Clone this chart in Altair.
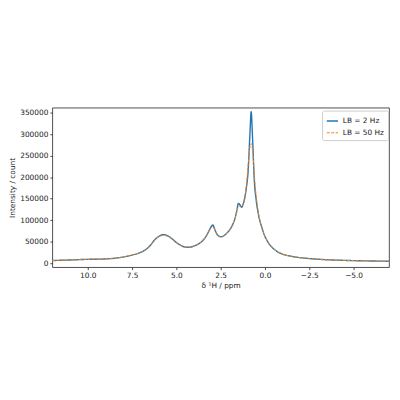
import altair as alt
import pandas as pd

ppm = [12.0, 11.0, 10.0, 9.5, 9.0, 8.5, 8.0, 7.5, 7.0, 6.75, 6.5, 6.25, 6.0, 5.75, 5.5, 5.25,
       5.0, 4.75, 4.5, 4.3, 4.0, 3.75, 3.5, 3.3, 3.1, 2.95, 2.8, 2.7, 2.6, 2.5, 2.4, 2.2, 2.0,
       1.8, 1.7, 1.6, 1.5, 1.42, 1.32, 1.25, 1.15, 1.05, 0.95, 0.85, 0.78, 0.7, 0.6, 0.5, 0.4,
       0.3, 0.2, 0.1, 0.0, -0.1, -0.25, -0.5, -0.75, -1.0, -1.5, -2.0, -2.5, -3.0, -4.0, -5.0,
       -6.0, -7.0]
lb2 = [6200, 7500, 9000, 9300, 10000, 11500, 14500, 19000, 25500, 31000, 40000, 53000, 62000,
       66500, 64000, 57000, 48000, 41500, 37500, 37000, 40000, 45000, 53000, 64000, 80000, 89000,
       75000, 67000, 63000, 61500, 62000, 68000, 77000, 92000, 103000, 120000, 139000, 136000,
       130000, 135000, 150000, 175000, 215000, 300000, 352000, 290000, 190000, 148000, 120000,
       100000, 86000, 73000, 62000, 54000, 44000, 33000, 25500, 21000, 16000, 12800, 10800, 9200,
       7200, 6000, 5200, 4600]
lb50 = [6200, 7500, 9000, 9300, 10000, 11500, 14500, 19000, 25500, 31000, 40000, 53000, 61500,
        64500, 63000, 57000, 48000, 41500, 37500, 37000, 40000, 45000, 53000, 64000, 79000, 85000,
        75000, 67000, 63000, 61500, 62000, 68000, 77000, 92000, 103000, 118000, 132000, 133000,
        131000, 136000, 152000, 180000, 228000, 270000, 278000, 262000, 205000, 158000, 125000,
        102000, 87000, 73000, 62000, 54000, 44000, 33000, 25500, 21000, 16000, 12800, 10800, 9200,
        7200, 6000, 5200, 4600]

series_names = ["LB = 2 Hz", "LB = 50 Hz"]
rows = []
for name, vals in zip(series_names, [lb2, lb50]):
    for i, (p, v) in enumerate(zip(ppm, vals)):
        rows.append({"ppm": p, "intensity": v, "series": name, "order": i})
df = pd.DataFrame(rows)

x_ticks = [10.0, 7.5, 5.0, 2.5, 0.0, -2.5, -5.0]
y_ticks = [0, 50000, 100000, 150000, 200000, 250000, 300000, 350000]

legend_opts = dict(title=None, orient="none", legendX=274, legendY=3,
                   direction="vertical", symbolType="stroke",
                   symbolStrokeWidth=1.5, symbolSize=130,
                   labelFontSize=7.5, labelFont="DejaVu Sans",
                   labelColor="#222", padding=4, rowPadding=2,
                   strokeColor="#cccccc", fillColor="white",
                   cornerRadius=2)

chart = alt.Chart(df).mark_line(interpolate="monotone").encode(
    x=alt.X("ppm:Q", scale=alt.Scale(domain=[12, -7], nice=False, zero=False),
            axis=alt.Axis(title="δ ¹H / ppm", values=x_ticks,
                          labelExpr="replace(format(datum.value, '.1f'), '-', '−')")),
    y=alt.Y("intensity:Q", scale=alt.Scale(domain=[-9200, 361500], nice=False, zero=False),
            axis=alt.Axis(title="Intensity / count", values=y_ticks, format="d")),
    color=alt.Color("series:N", scale=alt.Scale(domain=series_names, range=["#1f77b4", "#ff7f0e"]),
                    legend=alt.Legend(**legend_opts)),
    strokeDash=alt.StrokeDash("series:N", scale=alt.Scale(domain=series_names, range=[[1, 0], [3, 1.5]]),
                              legend=alt.Legend(**legend_opts)),
    strokeWidth=alt.StrokeWidth("series:N", scale=alt.Scale(domain=series_names, range=[1.4, 1.0]),
                                legend=None),
    order="order:Q",
).properties(
    width=342, height=162,
    padding={"left": 0, "top": 99, "right": 0, "bottom": 0},
).configure_view(
    stroke="#222", strokeWidth=0.8
).configure_axis(
    grid=False, domain=False, tickColor="#222", tickSize=2.5, tickWidth=0.8,
    labelFontSize=7.5, labelFont="DejaVu Sans", labelColor="#222", labelPadding=2,
    titleFontSize=7.5, titleFont="DejaVu Sans", titleFontWeight="normal", titleColor="#222",
    titlePadding=3,
)

chart.save("out.html", embed_options={"renderer": "svg", "actions": False})
